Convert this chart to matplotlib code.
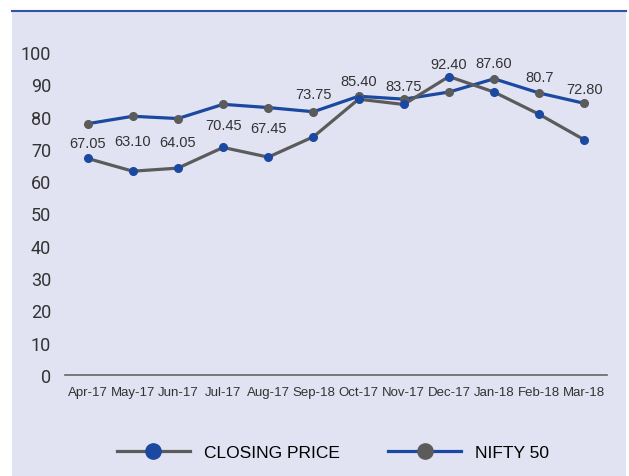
import matplotlib
matplotlib.use("Agg")
import matplotlib.pyplot as plt
from matplotlib import font_manager
from matplotlib.patches import Rectangle
from matplotlib.lines import Line2D

# data
months = ['Apr-17', 'May-17', 'Jun-17', 'Jul-17', 'Aug-17', 'Sep-18',
          'Oct-17', 'Nov-17', 'Dec-17', 'Jan-18', 'Feb-18', 'Mar-18']
closing_price = [67.05, 63.10, 64.05, 70.45, 67.45, 73.75,
                 85.40, 83.75, 92.40, 87.60, 80.7, 72.80]
closing_labels = ['67.05', '63.10', '64.05', '70.45', '67.45', '73.75',
                  '85.40', '83.75', '92.40', '87.60', '80.7', '72.80']
nifty_50 = [77.8, 80.1, 79.4, 83.8, 82.8, 81.5, 86.3, 85.4, 87.6, 91.7, 87.3, 84.1]
yticks = [0, 10, 20, 30, 40, 50, 60, 70, 80, 90, 100]

# where the value labels sit (layout, in axis units)
label_y = [71.7, 72.6, 72.0, 77.3, 76.6, 86.9, 91.0, 89.4, 96.3, 96.6, 92.2, 88.5]

bg = '#E1E3F2'
blue = '#1B48A0'
grey = '#5B5B5B'

names = sorted(set(f.name for f in font_manager.fontManager.ttflist))
narrow_name = 'Liberation Sans Narrow' if 'Liberation Sans Narrow' in names else 'Liberation Sans'
narrow = [narrow_name, 'DejaVu Sans']

fig = plt.figure(figsize=(6.29, 4.77), dpi=100)
fig.patches.append(Rectangle((12/629, 0), (626-12)/629, (477-12)/477,
                             transform=fig.transFigure, facecolor=bg,
                             edgecolor='none', zorder=-5))
fig.lines.append(Line2D([12/629, 626/629], [1-12/477, 1-12/477],
                        transform=fig.transFigure, color='#2D55A2', lw=1.5))

ax = fig.add_axes([65/629, 1-376/477, (607-65)/629, (376-53)/477])
ax.set_facecolor('none')

x = list(range(len(months)))
ax.plot(x, nifty_50, color=blue, lw=2.3, marker='o', ms=5.5,
        mfc=grey, mec=grey, zorder=3)
ax.plot(x, closing_price, color=grey, lw=2.3, marker='o', ms=5.5,
        mfc=blue, mec=blue, zorder=4)

for xi, yi, t in zip(x, label_y, closing_labels):
    ax.text(xi, yi, t, ha='center', va='center', fontsize=10.5,
            family=narrow, color='#333333')

ax.set_xlim(-0.5, len(months) - 0.5)
ax.set_ylim(0, 100)
ax.set_xticks(x)
ax.set_xticklabels(months, family=narrow, fontsize=9.5, color='#333333')
ax.set_yticks(yticks)
ax.set_yticklabels([str(v) for v in yticks], family=['Roboto', 'DejaVu Sans'],
                   fontsize=13, color='#333333')
ax.tick_params(length=0)
ax.tick_params(axis='x', pad=8)
ax.tick_params(axis='y', pad=10)
for s in ['top', 'right', 'left']:
    ax.spines[s].set_visible(False)
ax.spines['bottom'].set_color('#666666')
ax.spines['bottom'].set_linewidth(1.2)

handles = [Line2D([], [], color=grey, lw=2.3, marker='o', ms=11, mfc=blue, mec=blue),
           Line2D([], [], color=blue, lw=2.3, marker='o', ms=11, mfc=grey, mec=grey)]
fig.legend(handles, ['CLOSING PRICE', 'NIFTY 50'], loc='center',
           bbox_to_anchor=(333/629, 1-453/477), ncol=2, frameon=False,
           handlelength=4.2, columnspacing=2.8, handletextpad=0.8,
           prop={'family': narrow, 'size': 12.5})

fig.savefig('out.png', dpi=100, facecolor='white')
